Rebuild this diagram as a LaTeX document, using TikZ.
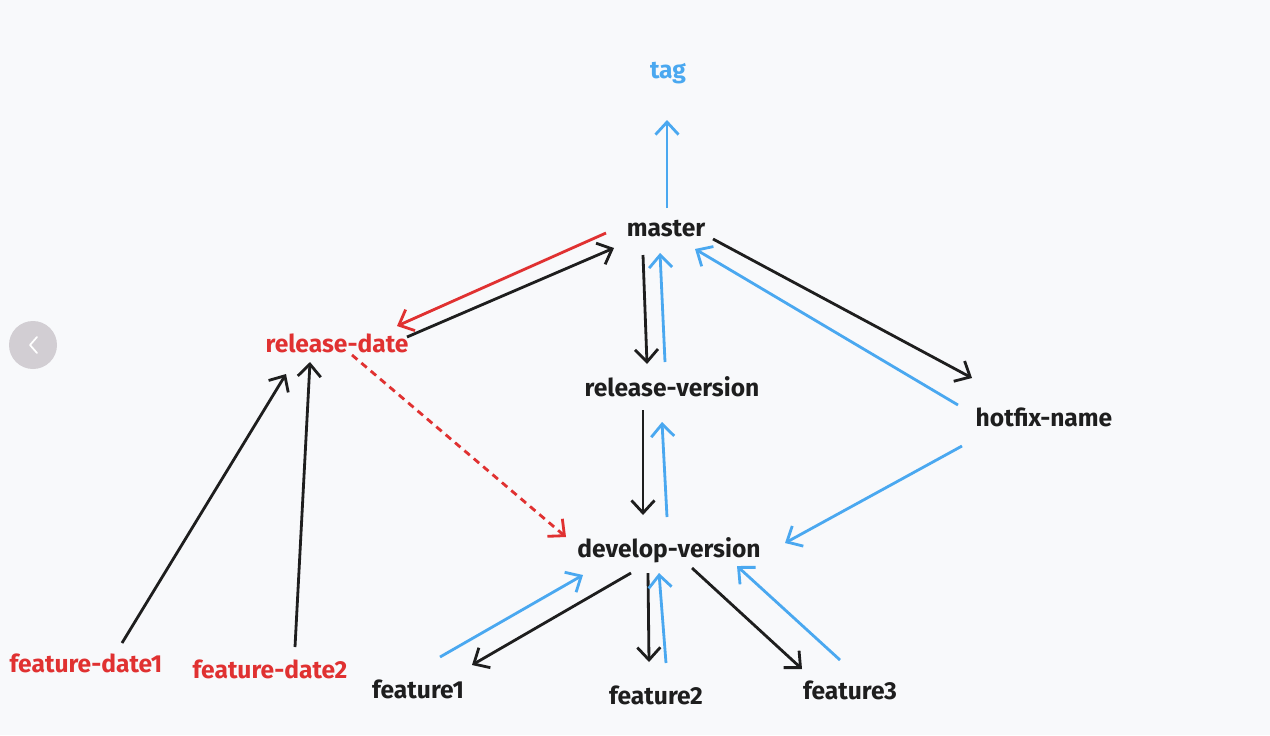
\documentclass[tikz,border=0pt]{standalone}
\usepackage{fontspec}
\setmainfont{Fira Sans}
\usetikzlibrary{arrows.meta,calc}
\definecolor{ink}{HTML}{1E1E1E}
\definecolor{skyblue}{HTML}{4AA8F0}
\definecolor{alert}{HTML}{E03131}
\definecolor{paper}{HTML}{F8F9FB}
\definecolor{knob}{HTML}{D2CED3}
\tikzset{
  branch/.style={font=\fontsize{14}{16}\selectfont\bfseries, text=ink, inner sep=0pt},
  merge/.style={draw=skyblue, line width=1.6pt, -{Straight Barb[length=2.5mm,width=4.6mm]}},
  fork/.style={draw=ink, line width=1.6pt, -{Straight Barb[length=2.5mm,width=4.6mm]}},
  hot/.style={draw=alert, line width=1.6pt, -{Straight Barb[length=2.5mm,width=4.6mm]}}
}
\begin{document}
\begin{tikzpicture}[x=0.02cm, y=-0.02cm]
  \fill[paper] (0,0) rectangle (1270,735);
  \useasboundingbox (0,0) rectangle (1270,735);
  % side knob
  \fill[knob] (33,345) circle (24);
  \draw[white, line width=1pt, line cap=round, line join=round] (37,337)--(30,345)--(37,353);

  \node[branch, text=skyblue] (tag) at (668,73) {tag};
  \node[branch] (master) at (666,229) {master};
  \node[branch, text=alert] (reldate) at (337,343) {release-date};
  \node[branch] (relver) at (672,387) {release-version};
  \node[branch] (hotfix) at (1044,417) {hotfix-name};
  \node[branch] (devver) at (669,550) {develop-version};
  \node[branch, text=alert] (fdate1) at (86,663) {feature-date1};
  \node[branch, text=alert] (fdate2) at (270,669) {feature-date2};
  \node[branch] (feat1) at (418,689) {feature1};
  \node[branch] (feat2) at (656,695) {feature2};
  \node[branch] (feat3) at (850,690) {feature3};

  % master and its neighbours
  \draw[merge] ($(master)+(1,-21)$) -- ($(tag)+(-1,47)$);
  \draw[fork] ($(master)+(-23,26)$) -- ($(relver)+(-25,-23)$);
  \draw[merge] ($(relver)+(-7,-25)$) -- ($(master)+(-6,24)$);
  \draw[fork] ($(master)+(47,10)$) -- ($(hotfix)+(-72,-39)$);
  \draw[merge] ($(hotfix)+(-86,-12)$) -- ($(master)+(29,20)$);
  \draw[hot] ($(master)+(-60,4)$) -- ($(reldate)+(60,-17)$);
  \draw[fork] ($(reldate)+(70,-6)$) -- ($(master)+(-52,19)$);
  \draw[hot, dash pattern=on 4pt off 3pt] ($(reldate)+(15,12)$) -- ($(devver)+(-103,-13)$);

  % develop
  \draw[fork] ($(relver)+(-29,23)$) -- ($(devver)+(-26,-35)$);
  \draw[merge] ($(devver)+(-2,-33)$) -- ($(relver)+(-10,35)$);
  \draw[merge] ($(hotfix)+(-82,29)$) -- ($(devver)+(116,-7)$);

  % features
  \draw[fork] ($(devver)+(-38,23)$) -- ($(feat1)+(54,-24)$);
  \draw[merge] ($(feat1)+(22,-32)$) -- ($(devver)+(-86,25)$);
  \draw[fork] ($(devver)+(-21,23)$) -- ($(feat2)+(-7,-33)$);
  \draw[merge] ($(feat2)+(10,-32)$) -- ($(devver)+(-10,23)$);
  \draw[fork] ($(devver)+(23,18)$) -- ($(feat3)+(-48,-21)$);
  \draw[merge] ($(feat3)+(-10,-30)$) -- ($(devver)+(68,16)$);
  \draw[fork] ($(fdate1)+(36,-20)$) -- ($(reldate)+(-51,31)$);
  \draw[fork] ($(fdate2)+(25,-22)$) -- ($(reldate)+(-27,19)$);
\end{tikzpicture}
\end{document}
